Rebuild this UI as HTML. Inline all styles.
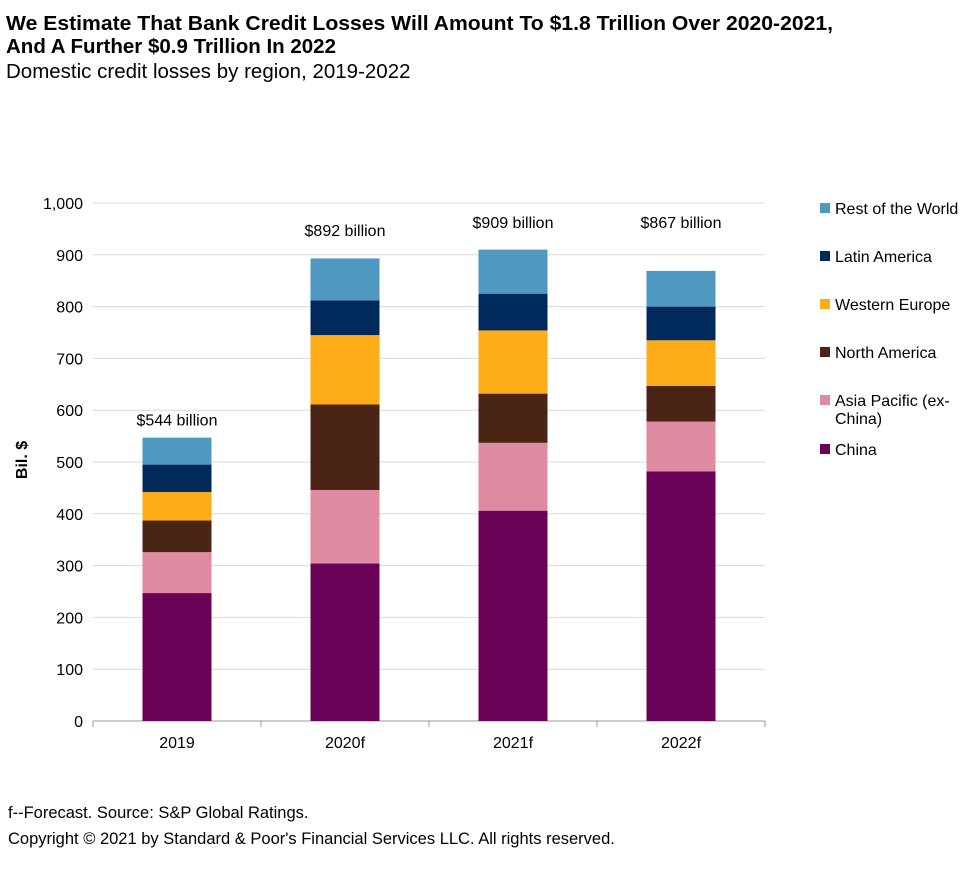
<!DOCTYPE html>
<html><head><meta charset="utf-8"><style>
body{margin:0;background:#fff;font-family:"Liberation Sans",Arial,sans-serif;}
svg text{font-family:"Liberation Sans",Arial,sans-serif;}
</style></head><body>
<svg id="chart" width="977" height="887">
<text x="6" y="30" font-size="20.5" font-weight="bold" textLength="827" lengthAdjust="spacingAndGlyphs">We Estimate That Bank Credit Losses Will Amount To $1.8 Trillion Over 2020-2021,</text>
<text x="6" y="53" font-size="20.5" font-weight="bold">And A Further $0.9 Trillion In 2022</text>
<text x="6" y="78" font-size="20.5">Domestic credit losses by region, 2019-2022</text>
<text transform="translate(27,460) rotate(-90)" text-anchor="middle" font-size="16" font-weight="bold">Bil. $</text>
<g id="grid"></g><g id="bars"></g><g id="legend"></g>
<text x="8" y="818" font-size="16.5">f--Forecast. Source: S&amp;P Global Ratings.</text>
<text x="8" y="844" font-size="16.5">Copyright © 2021 by Standard &amp; Poor's Financial Services LLC. All rights reserved.</text>
</svg>
<script>
const categories=["2019","2020f","2021f","2022f"];
const seriesNames=["China","Asia Pacific (ex-China)","North America","Western Europe","Latin America","Rest of the World"];
const china=[247,304,406,482];
const asiaPacific=[79,142,131,96];
const northAmerica=[61,165,95,69];
const westernEurope=[55,134,122,88];
const latinAmerica=[53,67,71,65];
const restOfWorld=[52,81,85,69];
const totalLabels=["$544 billion","$892 billion","$909 billion","$867 billion"];
const yTicks=[0,100,200,300,400,500,600,700,800,900,1000];
const colors=["#6a0358","#de8aa0","#4a2415","#feab18","#002a5c","#4f98c2"];
const series=[china,asiaPacific,northAmerica,westernEurope,latinAmerica,restOfWorld];
const NS="http://www.w3.org/2000/svg";
const x0=93,x1=765,y0=721,y1=203,yMax=1000;
const y=v=>y0-(v/yMax)*(y0-y1);
const bw=(x1-x0)/categories.length;
const xc=i=>x0+bw*(i+0.5);
function mk(t,a,p){const e=document.createElementNS(NS,t);for(const k in a)e.setAttribute(k,a[k]);p.appendChild(e);return e;}
const grid=document.getElementById('grid');
yTicks.forEach(t=>{
 if(t>0){const l=mk('line',{x1:x0,x2:x1,y1:y(t),y2:y(t),stroke:'#d9d9d9','stroke-width':1},grid);
 
 }
 const tx=mk('text',{x:x0-10,y:y(t)+6,'text-anchor':'end','font-size':16},grid);tx.textContent=t.toLocaleString('en-US');
 
 
});
const ax=mk('line',{x1:x0,x2:x1,y1:y0,y2:y0,stroke:'#999','stroke-width':1},grid);


for(let i=0;i<=categories.length;i++){const tk=mk('line',{x1:x0+bw*i,x2:x0+bw*i,y1:y0,y2:y0+6,stroke:'#999'},grid);
 
 }
const bars=document.getElementById('bars');
categories.forEach((c,i)=>{
 let acc=0;const w=69;
 series.forEach((s,j)=>{
  const r=mk('rect',{x:xc(i)-w/2,y:y(acc+s[i]),width:w,height:y(acc)-y(acc+s[i]),fill:colors[j]},bars);
  
  
  acc+=s[i];
 });
 const lb=mk('text',{x:xc(i),y:i==0?y(acc)-12:(i==1?236:228),'text-anchor':'middle','font-size':16},bars);lb.textContent=totalLabels[i];
 
 
 const xl=mk('text',{x:xc(i),y:748,'text-anchor':'middle','font-size':16},bars);xl.textContent=c;
 
 
});
const leg=document.getElementById('legend');
const ly=[449,400,352,304,256,208];
seriesNames.forEach((n,j)=>{
 const g=mk('g',{},leg);
 
 
 mk('rect',{x:820,y:ly[j]-5,width:10,height:10,fill:colors[j]},g);
 if(j==1){const t=mk('text',{x:835,y:ly[j]+6,'font-size':16},g);t.textContent='Asia Pacific (ex-';
  const t2=mk('text',{x:835,y:ly[j]+24,'font-size':16},g);t2.textContent='China)';}
 else{const t=mk('text',{x:835,y:ly[j]+6,'font-size':16},g);t.textContent=n;}
});
</script>
</body></html>
